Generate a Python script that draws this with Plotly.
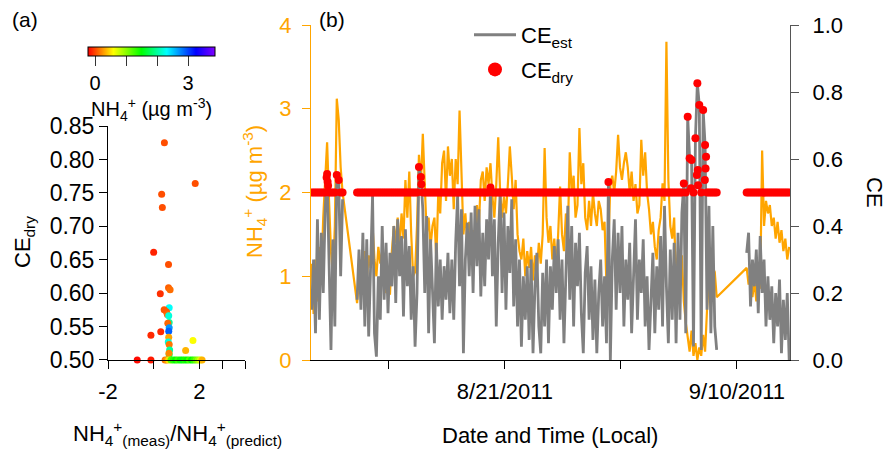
import pandas as pd
import plotly.graph_objects as go

FONT = "Liberation Sans, Arial, Helvetica, sans-serif"
ORANGE = "#FFA500"
GRAY = "#808080"
RED = "#FF0000"

# ---------------- Panel (a): CE_dry vs NH4 ratio, coloured by NH4 ----------------
ratio_a = [0.47, 1.82, 0.35, 0.38, 0.00, 0.65, 0.65, 0.72, 0.29, 0.68,
           0.46, 0.56, 0.60, 0.66, 0.68, 0.62, 0.68, 0.66, 0.31, -0.12,
           0.66, 0.64, 0.68, 1.72, 1.40, 0.70, 0.68, 0.67,
           -0.72, -0.12, 0.50, 0.58, 0.66, 0.76, 0.86, 0.96, 1.06, 1.16,
           1.26, 1.36, 1.46, 1.56, 1.66, 1.76, 1.86, 1.96, 2.05, 2.12]
ce_dry_a = [0.825, 0.764, 0.748, 0.728, 0.661, 0.643, 0.608, 0.605, 0.599, 0.578,
            0.575, 0.572, 0.568, 0.566, 0.556, 0.555, 0.548, 0.543, 0.542, 0.537,
            0.534, 0.527, 0.523, 0.529, 0.514, 0.515, 0.508, 0.510,
            0.5, 0.5, 0.5, 0.5, 0.5, 0.5, 0.5, 0.5, 0.5, 0.5,
            0.5, 0.5, 0.5, 0.5, 0.5, 0.5, 0.5, 0.5, 0.5, 0.5]
nh4_a = [0.02, 0.02, 0.02, 0.02, -0.12, 0.02, 0.08, 0.12, -0.08, 2.3,
         0.05, 0.05, 0.10, 2.2, 2.0, 0.10, 2.7, 2.9, -0.10, -0.10,
         0.30, 2.2, 0.15, 0.60, 0.35, 2.0, 1.8, 0.20,
         -0.20, -0.15, 0.15, 0.25, 0.50, 1.2, 1.35, 1.5, 1.3, 1.45,
         1.55, 1.4, 1.5, 1.25, 1.5, 1.3, 1.1, 0.9, 0.7, 0.35]

# ---------------- Panel (b): time series (4-hourly) ----------------
seg1_start = "2011-08-04 08:00"
seg2_start = "2011-08-08 06:00"
seg3_start = "2011-09-10 20:00"

nh4_seg1 = [1.15, 0.55, 1.2, 0.7, 1.35, 1.0, 1.7, 2.2, 2.6, 1.9, 1.3, 1.0, 1.6, 3.12, 2.87, 2.3, 2.0]
ce_est_seg1 = [0.15, 0.3, 0.08, 0.42, 0.12, 0.38, 0.2, 0.45, 0.555, 0.3, 0.03, 0.36, 0.1, 0.552, 0.537, 0.25, 0.48]
ce_dry_seg1 = [0.5, 0.5, 0.5, 0.5, 0.5, 0.5, 0.5, 0.5, 0.555, 0.5, 0.5, 0.5, 0.5, 0.552, 0.537, 0.5, 0.5]

nh4_seg2 = [
    0.68, 0.9, 1.2, 1.0, 1.3, 0.95, 1.25, 1.1, 1.6, 1.2,
    1.0, 1.35, 1.15, 1.3, 1.0, 0.8, 0.85, 0.78, 1.3, 1.6,
    1.4, 1.7, 1.35, 1.75, 1.45, 2.15, 1.7, 2.25, 1.5, 1.0,
    1.05, 1.6, 2.45, 2.1, 2.7, 2.0, 1.5, 1.7, 1.35, 1.6,
    1.7, 1.2, 2.0, 1.75, 2.35, 2.5, 1.9, 2.55, 2.2, 2.4,
    1.8, 2.4, 2.1, 2.98, 2.3, 1.5, 1.75, 1.4, 1.65, 1.3,
    1.55, 1.45, 1.85, 1.6, 2.15, 2.25, 1.9, 2.3, 2.1, 2.35,
    1.95, 1.7, 2.1, 2.66, 2.0, 1.7, 1.95, 1.75, 2.1, 2.55,
    2.2, 1.8, 2.15, 1.5, 1.3, 1.2, 1.45, 1.0, 1.3, 1.1,
    1.35, 0.95, 1.25, 1.05, 1.4, 1.15, 1.5, 2.53, 1.7, 1.4,
    1.6, 1.2, 1.45, 1.1, 1.5, 2.07, 1.5, 1.3, 1.75, 1.5,
    2.48, 2.0, 2.2, 1.7, 1.85, 2.77, 2.1, 2.35, 1.7, 1.55,
    1.9, 1.6, 2.0, 1.75, 1.6, 1.9, 1.8, 1.55, 1.65, 0.87,
    1.4, 2.1, 2.2, 2.0, 2.25, 2.69, 2.3, 2.15, 2.35, 2.48,
    2.3, 2.0, 2.25, 1.9, 2.1, 1.75, 1.85, 2.63, 2.2, 2.48,
    2.0, 1.8, 1.5, 1.65, 1.35, 1.2, 1.55, 1.7, 2.11, 1.9,
    3.8, 2.15, 1.6, 1.45, 1.7, 0.9, 1.3, 1.0, 1.25, 0.7,
    0.45, 0.3, 0.1, 0.35, 0.05, 0.2, 0.0, 0.15, 0.05, 0.3,
    0.1, 0.6, 1.0, 1.28, 1.1, 1.05, 0.75]
ce_est_seg2 = [
    0.18, 0.33, 0.15, 0.38, 0.1, 0.36, 0.07, 0.3, 0.49, 0.08,
    0.01, 0.25, 0.12, 0.4, 0.18, 0.35, 0.14, 0.32, 0.22, 0.4,
    0.17, 0.42, 0.25, 0.37, 0.13, 0.39, 0.22, 0.34, 0.12, 0.28,
    0.04, 0.2, 0.576, 0.546, 0.45, 0.2, 0.43, 0.08, 0.36, 0.21,
    0.05, 0.35, 0.16, 0.3, 0.12, 0.28, 0.18, 0.32, 0.14, 0.3,
    0.12, 0.35, 0.49, 0.22, 0.45, 0.02, 0.3, 0.41, 0.25, 0.44,
    0.2, 0.46, 0.28, 0.45, 0.19, 0.38, 0.22, 0.42, 0.3, 0.515,
    0.25, 0.42, 0.1, 0.35, 0.5, 0.2, 0.44, 0.15, 0.4, 0.26,
    0.48, 0.16, 0.36, 0.1, 0.3, 0.04, 0.25, 0.12, 0.28, 0.06,
    0.3, 0.02, 0.22, 0.32, 0.1, 0.02, 0.26, 0.1, 0.3, 0.05,
    0.28, 0.15, 0.34, 0.2, 0.36, 0.12, 0.3, 0.05, 0.25, 0.46,
    0.18, 0.4, 0.1, 0.35, 0.22, 0.38, 0.14, 0.02, 0.26, 0.34,
    0.12, 0.28, 0.06, 0.24, 0.02, 0.2, 0.3, 0.1, 0.25, 0.05,
    0.531, 0.0, 0.3, 0.42, 0.15, 0.38, 0.2, 0.4, 0.1, 0.3,
    0.18, 0.35, 0.08, 0.28, 0.42, 0.12, 0.3, 0.2, 0.36, 0.1,
    0.25, 0.03, 0.2, 0.32, 0.08, 0.28, 0.15, 0.37, 0.1, 0.46,
    0.22, 0.05, 0.33, 0.12, 0.35, 0.05, 0.38, 0.12, 0.44, 0.527,
    0.08, 0.726, 0.602, 0.597, 0.04, 0.662, 0.826, 0.761, 0.03, 0.746,
    0.642, 0.15, 0.46, 0.08, 0.4, 0.1, 0.03]
ce_dry_seg2 = [
    0.5, 0.5, 0.5, 0.5, 0.5, 0.5, 0.5, 0.5, 0.5, 0.5,
    0.5, 0.5, 0.5, 0.5, 0.5, 0.5, 0.5, 0.5, 0.5, 0.5,
    0.5, 0.5, 0.5, 0.5, 0.5, 0.5, 0.5, 0.5, 0.5, 0.5,
    0.5, 0.5, 0.576, 0.546, 0.5, 0.5, 0.5, 0.5, 0.5, 0.5,
    0.5, 0.5, 0.5, 0.5, 0.5, 0.5, 0.5, 0.5, 0.5, 0.5,
    0.5, 0.5, 0.5, 0.5, 0.5, 0.5, 0.5, 0.5, 0.5, 0.5,
    0.5, 0.5, 0.5, 0.5, 0.5, 0.5, 0.5, 0.5, 0.5, 0.515,
    0.5, 0.5, 0.5, 0.5, 0.5, 0.5, 0.5, 0.5, 0.5, 0.5,
    0.5, 0.5, 0.5, 0.5, 0.5, 0.5, 0.5, 0.5, 0.5, 0.5,
    0.5, 0.5, 0.5, 0.5, 0.5, 0.5, 0.5, 0.5, 0.5, 0.5,
    0.5, 0.5, 0.5, 0.5, 0.5, 0.5, 0.5, 0.5, 0.5, 0.5,
    0.5, 0.5, 0.5, 0.5, 0.5, 0.5, 0.5, 0.5, 0.5, 0.5,
    0.5, 0.5, 0.5, 0.5, 0.5, 0.5, 0.5, 0.5, 0.5, 0.5,
    0.531, 0.5, 0.5, 0.5, 0.5, 0.5, 0.5, 0.5, 0.5, 0.5,
    0.5, 0.5, 0.5, 0.5, 0.5, 0.5, 0.5, 0.5, 0.5, 0.5,
    0.5, 0.5, 0.5, 0.5, 0.5, 0.5, 0.5, 0.5, 0.5, 0.5,
    0.5, 0.5, 0.5, 0.5, 0.5, 0.5, 0.5, 0.5, 0.5, 0.527,
    0.5, 0.726, 0.602, 0.597, 0.5, 0.662, 0.826, 0.761, 0.5, 0.746,
    0.642, 0.5, 0.5, 0.5, 0.5, 0.5, 0.5]

nh4_seg3 = [1.1, 0.9, 1.05, 0.75, 0.95, 0.7, 1.0, 0.85, 2.5, 1.6, 1.9, 1.75,
            1.85, 1.6, 1.7, 1.45, 1.65, 1.4, 1.55, 1.3, 1.45, 1.2, 1.35]
ce_est_seg3 = [0.32, 0.38, 0.16, 0.3, 0.22, 0.33, 0.14, 0.37, 0.2, 0.3, 0.1, 0.25,
               0.12, 0.22, 0.05, 0.2, 0.1, 0.24, 0.02, 0.18, 0.06, 0.2, 0.0]
ce_dry_seg3 = [0.5, 0.5, 0.5, 0.5, 0.5, 0.5, 0.5, 0.5, 0.5, 0.5, 0.5, 0.5,
               0.5, 0.5, 0.5, 0.5, 0.5, 0.5, 0.5, 0.5, 0.5, 0.5, 0.5]

# additional CE_dry points stacked within the same 4-h slots
ce_dry_extra_times = ["2011-08-05 15:00", "2011-08-05 17:00", "2011-08-05 18:00",
                      "2011-08-13 19:00", "2011-09-06 01:00", "2011-09-06 13:00",
                      "2011-09-06 15:00", "2011-09-06 15:30", "2011-09-07 05:30",
                      "2011-09-07 07:00", "2011-09-07 08:00"]
ce_dry_extra_vals = [0.545, 0.532, 0.52, 0.525, 0.513, 0.552, 0.567, 0.522, 0.537, 0.572, 0.607]

for a, b, c in [(nh4_seg1, ce_est_seg1, ce_dry_seg1), (nh4_seg2, ce_est_seg2, ce_dry_seg2),
                (nh4_seg3, ce_est_seg3, ce_dry_seg3)]:
    assert len(a) == len(b) == len(c), (len(a), len(b), len(c))


def times(start, n):
    return list(pd.date_range(start, periods=n, freq="4h").strftime("%Y-%m-%d %H:%M"))


t1 = times(seg1_start, len(nh4_seg1))
t2 = times(seg2_start, len(nh4_seg2))
t3 = times(seg3_start, len(nh4_seg3))

x_nh4 = t1 + t2 + t3
y_nh4 = nh4_seg1 + nh4_seg2 + nh4_seg3
x_est = t1 + [None] + t2 + [None] + t3
y_est = ce_est_seg1 + [None] + ce_est_seg2 + [None] + ce_est_seg3
x_dry = t1 + t2 + t3 + ce_dry_extra_times
y_dry = ce_dry_seg1 + ce_dry_seg2 + ce_dry_seg3 + ce_dry_extra_vals

RAINBOW = [[0.0, "#ff0000"], [0.2, "#ffff00"], [0.42, "#00ff00"],
           [0.62, "#00ffff"], [0.85, "#0000ff"], [1.0, "#8000ff"]]

W, H = 889, 450


def px(x):
    return x / W


def py(y):
    return 1 - y / H


fig = go.Figure()

fig.add_trace(go.Scatter(
    x=ratio_a, y=ce_dry_a, mode="markers", xaxis="x", yaxis="y", showlegend=False,
    cliponaxis=False,
    marker=dict(size=7, color=nh4_a, colorscale=RAINBOW, cmin=-0.23, cmax=3.87,
                showscale=True,
                colorbar=dict(orientation="h", thickness=9, thicknessmode="pixels",
                              len=127, lenmode="pixels", x=px(151.5), xanchor="center",
                              y=py(47), yanchor="top", xpad=0, ypad=0,
                              outlinewidth=1, outlinecolor="black",
                              tickmode="linear", tick0=0, dtick=1, ticklabelstep=3,
                              ticks="outside", ticklen=10, tickcolor="#333",
                              tickfont=dict(size=20, color="black", family=FONT)))))

fig.add_trace(go.Scatter(x=x_nh4, y=y_nh4, mode="lines", xaxis="x2", yaxis="y2",
                         line=dict(color=ORANGE, width=2.2), showlegend=False))
fig.add_trace(go.Scatter(x=x_est, y=y_est, mode="lines", xaxis="x2", yaxis="y3",
                         line=dict(color=GRAY, width=2.8), connectgaps=False, showlegend=False))
fig.add_trace(go.Scatter(x=x_dry, y=y_dry, mode="markers", xaxis="x2", yaxis="y3",
                         marker=dict(color=RED, size=8), showlegend=False))
# legend entries
fig.add_trace(go.Scatter(x=[None], y=[None], mode="lines", xaxis="x2", yaxis="y3",
                         line=dict(color=GRAY, width=3), name="CE<sub>est</sub>",
                         legendgroup="est"))
fig.add_trace(go.Scatter(x=[None], y=[None], mode="markers", xaxis="x2", yaxis="y3",
                         marker=dict(color=RED, size=14), name="CE<sub>dry</sub>",
                         legendgroup="dry"))

tickfont = dict(size=22, color="black", family=FONT)

fig.update_layout(
    width=W, height=H, margin=dict(l=0, r=0, t=0, b=0, autoexpand=False),
    paper_bgcolor="white", plot_bgcolor="white",
    font=dict(family=FONT, size=22, color="black"),
    showlegend=True,
    legend=dict(x=px(469), y=py(14), xanchor="left", yanchor="top",
                bgcolor="rgba(0,0,0,0)", font=dict(size=22, family=FONT),
                itemwidth=42, tracegroupgap=3),
    xaxis=dict(domain=[px(108), px(245)], range=[-2, 4], anchor="y",
               tickvals=[-2, 2], ticktext=["-2", "2"],
               minor=dict(tickvals=[0, 3, 4], ticks="outside", ticklen=8, tickcolor="black"),
               ticks="outside", ticklen=8, tickcolor="black", showline=True,
               linecolor="black", linewidth=1, showgrid=False, zeroline=False,
               tickfont=tickfont, ticklabelstandoff=4),
    yaxis=dict(domain=[py(360), py(126)], range=[0.4999, 0.8501], anchor="x",
               tickvals=[0.5, 0.55, 0.6, 0.65, 0.7, 0.75, 0.8, 0.85],
               ticktext=["0.50", "0.55", "0.60", "0.65", "0.70", "0.75", "0.80", "0.85"],
               ticks="outside", ticklen=8, tickcolor="black", showline=True,
               linecolor="black", linewidth=1, showgrid=False, zeroline=False,
               tickfont=dict(size=23, color="black", family=FONT)),
    xaxis2=dict(domain=[px(311), px(790)], type="date", anchor="y2",
                range=["2011-08-04 06:40", "2011-09-14 13:40"],
                tickvals=["2011-08-21", "2011-09-10"],
                ticktext=["8/21/2011", "9/10/2011"],
                minor=dict(tickvals=["2011-08-11", "2011-08-31"], ticks="outside",
                           ticklen=8, tickcolor="black"),
                ticks="outside", ticklen=8, tickcolor="black", showline=True,
                linecolor="black", linewidth=1, showgrid=False, zeroline=False,
                tickfont=tickfont, ticklabelstandoff=4),
    yaxis2=dict(domain=[py(360), py(25)], range=[0, 4], anchor="x2",
                tickvals=[0, 1, 2, 3, 4], ticks="outside", ticklen=8,
                tickcolor=ORANGE, showline=True, linecolor=ORANGE, linewidth=1,
                showgrid=False, zeroline=False, ticklabelstandoff=6,
                tickfont=dict(size=22, color=ORANGE, family=FONT)),
    yaxis3=dict(overlaying="y2", side="right", range=[0, 1], anchor="x2",
                tickvals=[0, 0.2, 0.4, 0.6, 0.8, 1.0],
                ticktext=["0.0", "0.2", "0.4", "0.6", "0.8", "1.0"],
                ticks="outside", ticklen=8, tickcolor="#555", showline=True,
                linecolor="#555", linewidth=1, showgrid=False, zeroline=False,
                ticklabelstandoff=9, tickfont=tickfont),
)

ann = dict(xref="paper", yref="paper", showarrow=False, xanchor="center", yanchor="middle")
annotations = [
    dict(text="(a)", x=px(25), y=py(20), font=dict(size=21, family=FONT, color="black")),
    dict(text="(b)", x=px(332), y=py(20), font=dict(size=21, family=FONT, color="black")),
    dict(text="CE<sub>dry</sub>", x=px(24), y=py(242), textangle=-90,
         font=dict(size=22, family=FONT, color="black")),
    dict(text="NH<sub>4</sub><sup>+</sup><sub>(meas)</sub>/NH<sub>4</sub><sup>+</sup><sub>(predict)</sub>",
         x=px(177), y=py(433), font=dict(size=22, family=FONT, color="black")),
    dict(text="NH<sub>4</sub><sup>+</sup> (µg m<sup>-3</sup>)", x=px(151), y=py(109),
         font=dict(size=20, family=FONT, color="black")),
    dict(text="NH<sub>4</sub><sup>+</sup> (µg m<sup>-3</sup>)", x=px(254), y=py(192), textangle=-90,
         font=dict(size=22, family=FONT, color=ORANGE)),
    dict(text="CE", x=px(875), y=py(192), textangle=90,
         font=dict(size=22, family=FONT, color="black")),
    dict(text="Date and Time (Local)", x=px(550), y=py(435),
         font=dict(size=22, family=FONT, color="black")),
]
fig.update_layout(annotations=[{**ann, **a} for a in annotations])

fig.write_html("out.html")
